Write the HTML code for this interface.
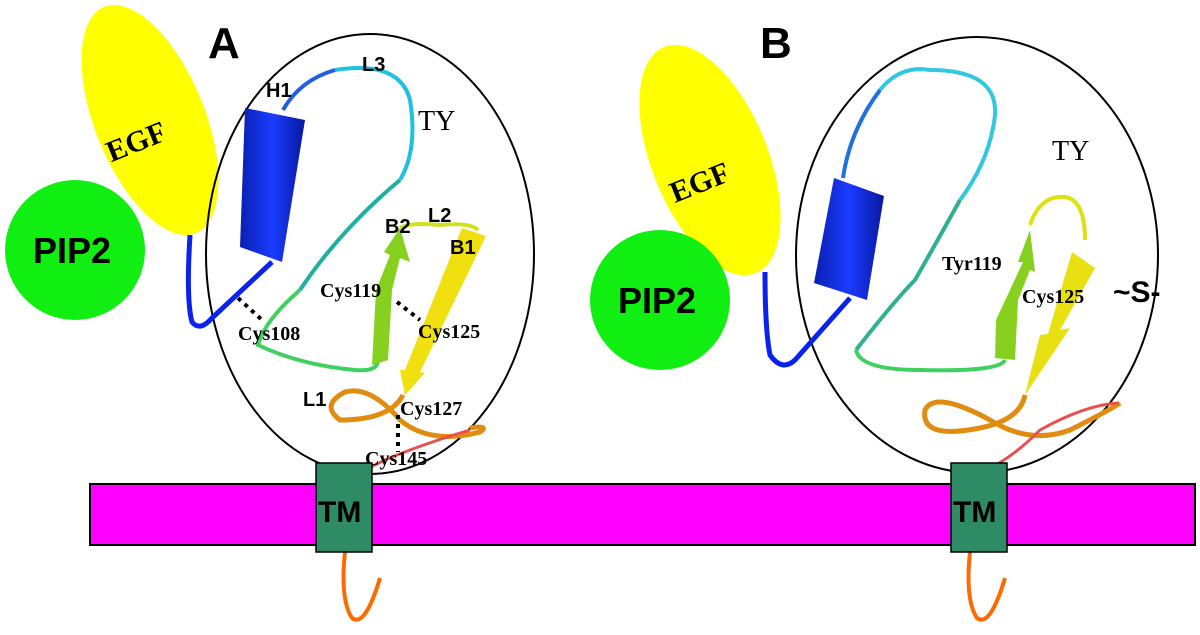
<!DOCTYPE html>
<html><head><meta charset="utf-8"><style>
html,body{margin:0;padding:0;background:#fff;}
svg{display:block;}
.b{font-family:"Liberation Sans",sans-serif;font-weight:bold;}
.s{font-family:"Liberation Serif",serif;font-weight:bold;}
</style></head><body>
<svg width="1200" height="635" viewBox="0 0 1200 635" xmlns="http://www.w3.org/2000/svg">
<defs>
<linearGradient id="cyl" x1="0" x2="1" y1="0" y2="0"><stop offset="0" stop-color="#0a1fb0"/><stop offset="0.5" stop-color="#1a3cff"/><stop offset="1" stop-color="#0818a0"/></linearGradient>
</defs>
<rect x="90" y="484" width="1105" height="61" fill="#ff00ff" stroke="#000" stroke-width="2"/>
<!-- Panel A -->
<ellipse cx="150" cy="120" rx="55" ry="122" transform="rotate(-22 150 120)" fill="#ffff00"/>
<text x="105" y="150" class="s" font-size="30" transform="rotate(-22 140 140)">EGF</text>
<circle cx="75" cy="250" r="70" fill="#11ee11"/>
<text x="33" y="263" class="b" font-size="36" fill="#000">PIP2</text>
<text x="208" y="58" class="b" font-size="44">A</text>
<ellipse cx="370" cy="254" rx="164" ry="220" fill="none" stroke="#000" stroke-width="2"/>
<path d="M272,262 L212,318 Q200,332 192,322 Q186,300 190,235" fill="none" stroke="#0a22ee" stroke-width="5"/>
<polygon points="245,108 305,120 282,262 240,247" fill="url(#cyl)"/>
<path d="M283,110 Q300,80 335,70" fill="none" stroke="#2060e0" stroke-width="4"/>
<path d="M335,70 Q400,60 410,100 Q418,150 400,180" fill="none" stroke="#20c0e0" stroke-width="4"/>
<path d="M400,180 Q340,230 300,290" fill="none" stroke="#20b0a0" stroke-width="4"/>
<path d="M300,290 Q265,320 258,345 Q300,365 355,370 Q378,372 378,360" fill="none" stroke="#40d060" stroke-width="4"/>
<polygon points="372,365 388,360 392,290 400,258 410,262 400,228 384,252 390,255 376,290" fill="#88d020"/>
<path d="M400,228 Q410,222 440,225 Q470,222 478,230" fill="none" stroke="#d0e020" stroke-width="4"/>
<polygon points="462,228 486,236 420,372 425,373 405,395 400,370 405,370" fill="#f0e010"/>
<path d="M403,395 Q390,420 340,420 Q320,405 345,392 Q370,385 400,420 Q430,445 480,432 Q490,425 470,428" fill="none" stroke="#e08c10" stroke-width="5"/>
<path d="M470,430 Q420,445 385,460 Q365,470 355,474" fill="none" stroke="#e85050" stroke-width="3"/>
<path d="M238,298 L262,320" stroke="#000" stroke-width="4" stroke-dasharray="4,5"/>
<path d="M397,302 L420,320" stroke="#000" stroke-width="4" stroke-dasharray="4,5"/>
<path d="M398,415 L398,452" stroke="#000" stroke-width="4" stroke-dasharray="4,5"/>
<text x="266" y="97" class="b" font-size="20">H1</text>
<text x="362" y="71" class="b" font-size="20">L3</text>
<text x="418" y="130" font-family="Liberation Serif,serif" font-size="28">TY</text>
<text x="385" y="233" class="b" font-size="20">B2</text>
<text x="428" y="222" class="b" font-size="20">L2</text>
<text x="450" y="254" class="b" font-size="20">B1</text>
<text x="320" y="297" class="s" font-size="20">Cys119</text>
<text x="238" y="340" class="s" font-size="20">Cys108</text>
<text x="418" y="338" class="s" font-size="20">Cys125</text>
<text x="303" y="406" class="b" font-size="20">L1</text>
<text x="400" y="415" class="s" font-size="20">Cys127</text>
<text x="365" y="465" class="s" font-size="20">Cys145</text>
<path d="M345,552 Q340,600 352,618 Q365,628 380,578" fill="none" stroke="#ff6a00" stroke-width="4"/>
<rect x="316" y="463" width="56" height="89" fill="#2e8b66" stroke="#000" stroke-width="1.5"/>
<text x="318" y="522" class="b" font-size="30">TM</text>
<!-- Panel B -->
<ellipse cx="710" cy="160" rx="58" ry="122" transform="rotate(-22 710 160)" fill="#ffff00"/>
<text x="668" y="192" class="s" font-size="30" transform="rotate(-22 700 180)">EGF</text>
<circle cx="660" cy="300" r="70" fill="#11ee11"/>
<text x="618" y="313" class="b" font-size="36">PIP2</text>
<text x="760" y="58" class="b" font-size="44">B</text>
<ellipse cx="977" cy="255" rx="181" ry="218" fill="none" stroke="#000" stroke-width="2"/>
<path d="M850,298 L795,360 Q782,372 770,355 Q765,330 765,272" fill="none" stroke="#0a22ee" stroke-width="5"/>
<polygon points="834,178 884,196 867,300 814,283" fill="url(#cyl)"/>
<path d="M843,178 Q850,130 880,90" fill="none" stroke="#2070e0" stroke-width="4"/>
<path d="M880,90 Q900,65 930,70 Q998,70 995,115 Q990,160 960,200" fill="none" stroke="#30c8e0" stroke-width="4"/>
<path d="M960,200 Q935,245 915,280 Q895,300 856,350" fill="none" stroke="#30b090" stroke-width="4"/>
<path d="M856,350 Q860,370 920,370 Q1000,372 1005,360" fill="none" stroke="#40d060" stroke-width="4"/>
<polygon points="995,358 1015,360 1018,300 1030,270 1035,272 1030,230 1018,262 1023,262 996,320" fill="#88d020"/>
<path d="M1030,225 Q1040,195 1065,197 Q1085,200 1085,240" fill="none" stroke="#e0e010" stroke-width="4"/>
<polygon points="1072,252 1095,268 1060,330 1070,328 1025,395 1040,335 1048,334" fill="#e8e010"/>
<path d="M1025,395 Q1020,420 980,428 Q920,440 925,410 Q935,390 990,420 Q1030,445 1070,430 Q1110,410 1120,403" fill="none" stroke="#e08c10" stroke-width="5"/>
<path d="M1118,403 Q1085,405 1040,430 Q1010,460 985,470" fill="none" stroke="#e85050" stroke-width="3"/>
<text x="1052" y="160" font-family="Liberation Serif,serif" font-size="28">TY</text>
<text x="942" y="270" class="s" font-size="20">Tyr119</text>
<text x="1022" y="303" class="s" font-size="20">Cys125</text>
<text x="1113" y="302" class="b" font-size="30">~S-</text>
<path d="M970,552 Q965,600 977,618 Q990,628 1005,578" fill="none" stroke="#ff6a00" stroke-width="4"/>
<rect x="951" y="463" width="56" height="89" fill="#2e8b66" stroke="#000" stroke-width="1.5"/>
<text x="953" y="522" class="b" font-size="30">TM</text>
</svg>
</body></html>
